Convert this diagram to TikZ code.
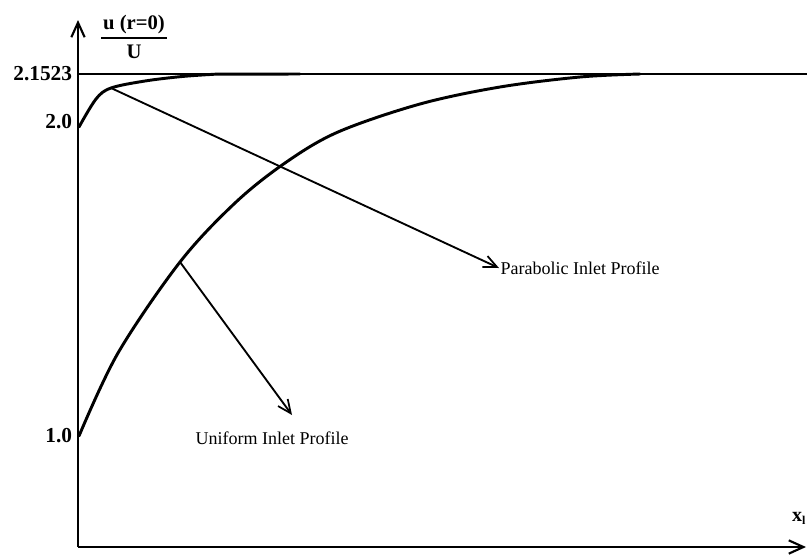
\documentclass[tikz,border=0pt]{standalone}
\usepackage{fontspec}
\setmainfont{Liberation Serif}
\usepackage{tikz}
\usetikzlibrary{arrows.meta,positioning}
\tikzset{
    axis/.style={line width=2pt,-{Straight Barb[length=11pt,width=10pt,line width=1.6pt]}},
    curve/.style={line width=2.2pt,line cap=round,line join=round},
    pointer/.style={line width=1.4pt,-{Straight Barb[length=10pt,width=9pt,line width=1.3pt]}},
    tick/.style={font=\fontsize{16}{18}\selectfont\bfseries,anchor=east,inner sep=2pt},
    profile/.style={font=\fontsize{13.5}{15}\selectfont,inner sep=1pt}
}
\begin{document}
\begin{tikzpicture}[x=0.75pt,y=-0.75pt]
        \useasboundingbox (0,0) rectangle (807,558);
        % axes
        \coordinate (orig) at (78,547);
        \coordinate (ytop) at (78,20);
        \coordinate (xend) at (806,547);
        \draw[axis] (orig) -- (ytop);
        \draw[axis] (orig) -- (xend);
        \node[font=\fontsize{15}{17}\selectfont\bfseries,anchor=south] (xlab) at (799,529) {x\textsubscript{\fontsize{9}{9}\selectfont l}};
        
        % asymptote
        \coordinate (hleft) at (78,74);
        \coordinate (hright) at (807,74);
        \draw[line width=1.1pt] (hleft) -- (hright);
        \node[tick] (t1) at (75,74) {2.1523};
        \node[tick] (t2) at (75,122) {2.0};
        \node[tick] (t3) at (75,436) {1.0};
        
        % ratio label
        \node[font=\fontsize{15.5}{17}\selectfont\bfseries] (num) at (134,25) {u (r=0)};
        \node[font=\fontsize{15.5}{17}\selectfont\bfseries] (den) at (134,52) {U};
        \draw[line width=1.1pt] (101,38) -- (167,38);
        
        % parabolic inlet
        \coordinate (ppk) at (111,88);
        \draw[curve] plot[smooth,tension=0.55] coordinates {(79,127) (96,99) (ppk)
            (145,81) (182,76.5) (215,74.2)} -- (300,74);
        % uniform inlet
        \coordinate (upk) at (180,262);
        \draw[curve] plot[smooth,tension=0.55] coordinates {(79,436) (118,353)
            (upk) (235,203) (285,163) (338,132) (420,104)
            (500,87) (580,77) (640,74)};
        
        % labels
        \node[profile,anchor=west] (ptxt) at (499,268) {Parabolic Inlet Profile};
        \node[profile] (utxt) at (272,438) {Uniform Inlet Profile};
        \coordinate (uend) at (292,415);
        \draw[pointer] (ppk) -- (ptxt.west);
        \draw[pointer] (upk) -- (uend);
    \end{tikzpicture}
\end{document}
